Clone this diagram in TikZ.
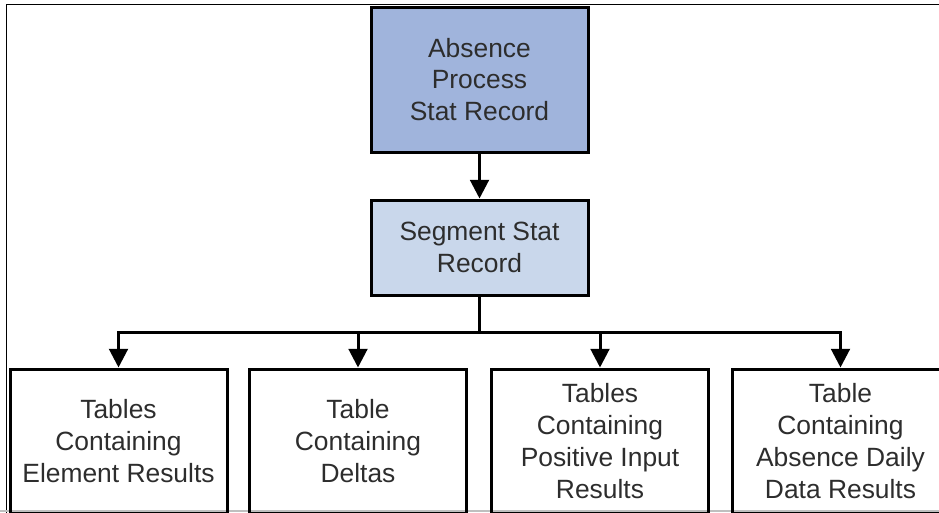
\documentclass[tikz,border=0pt]{standalone}
\usepackage{fontspec}
\setmainfont{Liberation Sans}
\usetikzlibrary{arrows.meta}
\usetikzlibrary{positioning}
\usetikzlibrary{calc}
\definecolor{statdark}{RGB}{160,180,220}
\definecolor{statlight}{RGB}{201,215,235}
\definecolor{textgray}{RGB}{45,45,45}

\begin{document}
\begin{tikzpicture}[x=0.75pt,y=-0.75pt,
	box/.style={draw,line width=2.25pt,minimum width=162.75pt,align=center,text=textgray,font=\fontsize{19.8}{23.8}\selectfont},
	arr/.style={line width=2.25pt,-{Triangle[length=14pt,width=14pt]}}]
	\useasboundingbox (0,0) rectangle (939,512);
	\clip (0,0) rectangle (939,512);
	\draw[line width=1.2pt] (6.5,520) -- (6.5,4.5) -- (945,4.5);
	\draw[gray!50,line width=1pt] (0,511) -- (939,511);
	
	\node[box,fill=statdark,minimum height=108.75pt] at (479.5,79.5) (A) {Absence\\Process\\Stat Record};
	\node[box,fill=statlight,minimum height=71.25pt,below=33.75pt of A] (S) {Segment Stat\\Record};
	
	\node[box,minimum height=108pt] at (118.5,441) (T1) {Tables\\Containing\\Element Results};
	\node[box,minimum height=108pt] at (358,441) (T2) {Table\\Containing\\Deltas};
	\node[box,minimum height=108pt] at (600,441) (T3) {Tables\\Containing\\Positive Input\\Results};
	\node[box,minimum height=108pt] at (840.5,441) (T4) {Table\\Containing\\Absence Daily\\Data Results};
	
	\coordinate (bus) at ($(S.south)+(0,36)$);
	\draw[arr] (A) -- (S);
	\draw[line width=2.25pt] (S.south) -- (bus);
	\draw[arr] (bus) -| (T1.north);
	\draw[arr] (bus) -| (T2.north);
	\draw[arr] (bus) -| (T3.north);
	\draw[arr] (bus) -| (T4.north);
\end{tikzpicture}
\end{document}
